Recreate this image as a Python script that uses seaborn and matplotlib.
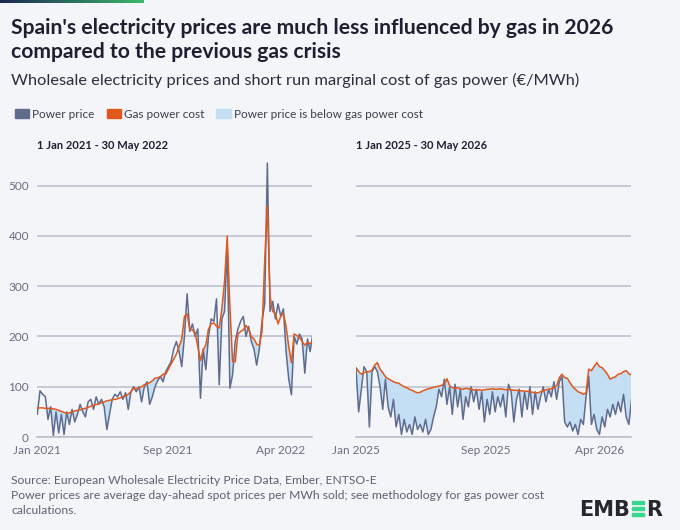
import matplotlib
matplotlib.use("Agg")
import matplotlib.pyplot as plt
import matplotlib.dates as mdates
from matplotlib.colors import LinearSegmentedColormap
from matplotlib.patches import Patch, Rectangle
import numpy as np
import pandas as pd
import seaborn as sns

# Values every 5 days (EUR/MWh)
start_2021 = "2021-01-01"
power_2021 = [
    45, 92, 85, 80, 35, 60, 3, 50, 8, 45, 5, 50, 25, 55, 30, 45, 65, 50, 40, 70,
    75, 55, 80, 65, 75, 60, 15, 45, 75, 85, 80, 90, 75, 88, 55, 90, 100, 90, 100, 70,
    100, 110, 65, 80, 100, 112, 120, 110, 130, 140, 150, 175, 190, 170, 140, 200, 285, 210, 225, 200,
    215, 77, 175, 134, 200, 235, 230, 275, 104, 235, 250, 380, 97, 124, 190, 215, 230, 240, 200, 220,
    190, 175, 143, 175, 230, 265, 545, 250, 270, 235, 265, 240, 255, 170, 115, 84, 200, 185, 205, 195,
    127, 195, 170, 205,
]
gas_2021 = [
    57, 58, 58, 57, 57, 57, 56, 55, 53, 51, 49, 47, 48, 50, 52, 53, 54, 56, 57, 59,
    61, 63, 65, 66, 68, 70, 72, 73, 74, 75, 76, 78, 80, 82, 85, 90, 97, 96, 97, 100,
    104, 106, 108, 112, 117, 118, 120, 125, 125, 135, 145, 155, 165, 180, 195, 240, 245, 215, 213, 207,
    180, 152, 173, 183, 215, 225, 227, 220, 217, 255, 310, 400, 260, 150, 150, 205, 210, 213, 222, 215,
    200, 195, 185, 182, 210, 350, 460, 280, 250, 246, 225, 240, 246, 220, 180, 148, 205, 202, 198, 190,
    183, 188, 186, 190,
]

start_2025 = "2025-01-01"
power_2025 = [
    135, 50, 95, 140, 130, 20, 130, 140, 130, 100, 55, 115, 60, 40, 75, 20, 45, 5, 35, 10,
    25, 5, 40, 15, 25, 10, 35, 5, 15, 40, 60, 95, 80, 115, 65, 100, 45, 105, 60, 95,
    35, 80, 60, 100, 70, 95, 55, 90, 30, 75, 45, 90, 50, 80, 60, 85, 40, 105, 90, 30,
    75, 95, 40, 90, 55, 100, 45, 90, 55, 80, 100, 70, 95, 80, 110, 75, 110, 120, 30, 20,
    30, 12, 25, 5, 35, 25, 80, 120, 25, 45, 15, 5, 40, 20, 55, 40, 65, 45, 70, 50,
    85, 40, 25, 75,
]
gas_2025 = [
    138, 130, 125, 128, 130, 130, 133, 143, 148, 135, 128, 120, 116, 113, 110, 108, 107, 103, 100, 98,
    95, 93, 90, 88, 89, 92, 94, 96, 97, 99, 100, 101, 103, 106, 116, 102, 98, 97, 98, 96,
    95, 97, 96, 95, 94, 93, 94, 93, 94, 95, 95, 96, 95, 95, 96, 95, 94, 95, 94, 93,
    93, 92, 92, 91, 91, 90, 89, 88, 88, 90, 92, 94, 95, 96, 98, 102, 118, 125, 118, 117,
    108, 100, 95, 90, 88, 85, 88, 135, 132, 140, 148, 140, 138, 132, 125, 115, 118, 120, 125, 126,
    130, 132, 126, 123,
]
step = "5D"

panels = [
    ("1 Jan 2021 - 30 May 2022", start_2021, "2022-05-30", power_2021, gas_2021,
     ["2021-01-01", "2021-09-01", "2022-04-01"]),
    ("1 Jan 2025 - 30 May 2026", start_2025, "2026-05-30", power_2025, gas_2025,
     ["2025-01-01", "2025-09-01", "2026-04-01"]),
]

BG = "#f4f5f9"
GRID = "#b9bdcc"
POWER = "#606c8e"
GAS = "#e0581c"
FILL = "#c4dff3"
TICK = "#6a6e80"
DARK = "#1d2033"

sns.set_theme(style="white")
plt.rcParams["font.family"] = ["Lato", "DejaVu Sans"]

W, H = 680, 530
fig = plt.figure(figsize=(W / 100, H / 100), dpi=100, facecolor=BG)

# gradient strip at the top left
strip = fig.add_axes([0, 1 - 3 / H, 144 / W, 3 / H])
strip.imshow(np.linspace(0, 1, 200)[None, :], aspect="auto",
             cmap=LinearSegmentedColormap.from_list("ember", ["#1b2850", "#3cb96c"]))
strip.axis("off")

fig.text(11 / W, 1 - 34.5 / H, "Spain's electricity prices are much less influenced by gas in 2026",
         fontsize=15.2, fontweight="bold", color=DARK, va="baseline")
fig.text(11 / W, 1 - 58.5 / H, "compared to the previous gas crisis",
         fontsize=15.2, fontweight="bold", color=DARK, va="baseline")
fig.text(11 / W, 1 - 85 / H,
         "Wholesale electricity prices and short run marginal cost of gas power (€/MWh)",
         fontsize=11.8, color="#2a2d3c", va="baseline")

handles = [Patch(color=POWER, label="Power price"),
           Patch(color=GAS, label="Gas power cost"),
           Patch(color=FILL, label="Power price is below gas power cost")]
fig.legend(handles=handles, loc="center left", bbox_to_anchor=(4 / W, 1 - 114.3 / H),
           ncol=3, frameon=False, fontsize=8.5, handlelength=1.2, handleheight=0.85,
           handletextpad=0.3, columnspacing=1.0, labelcolor="#3a3d4c")

for k, (title, start, end, power, gas, ticks) in enumerate(panels):
    left = 37.3 if k == 0 else 356
    ax = fig.add_axes([left / W, 93 / H, 275 / W, 277.4 / H])
    ax.set_facecolor(BG)
    df = pd.DataFrame({
        "date": pd.date_range(start, periods=len(power), freq=step),
        "power": power,
        "gas": gas,
    })
    ax.fill_between(df["date"], df["power"], df["gas"], where=df["power"] < df["gas"],
                    interpolate=True, color=FILL, lw=0, zorder=1)
    sns.lineplot(data=df, x="date", y="power", ax=ax, color=POWER, linewidth=1.1, zorder=2)
    sns.lineplot(data=df, x="date", y="gas", ax=ax, color=GAS, linewidth=1.1, zorder=3)

    ax.set_xlim(pd.Timestamp(start), pd.Timestamp(end))
    ax.set_ylim(0, 552)
    ax.set_yticks([0, 100, 200, 300, 400, 500])
    ax.yaxis.grid(True, color=GRID, linewidth=1.1)
    ax.set_axisbelow(True)
    ax.set_xticks(pd.to_datetime(ticks))
    ax.xaxis.set_major_formatter(mdates.DateFormatter("%b %Y"))
    ax.tick_params(axis="x", length=3, width=1, color=GRID, pad=3, labelsize=8.5, labelcolor=TICK)
    ax.tick_params(axis="y", length=0, pad=6, labelsize=8.5, labelcolor=TICK)
    if k == 1:
        ax.tick_params(axis="y", labelleft=False)
    ax.set_xlabel("")
    ax.set_ylabel("")
    for side in ["top", "right", "left"]:
        ax.spines[side].set_visible(False)
    ax.spines["bottom"].set_color(GRID)
    ax.spines["bottom"].set_linewidth(1.1)
    fig.text(left / W, 1 - 145.7 / H, title, fontsize=8, fontweight="bold",
             color=DARK, va="center")

foot_kw = dict(fontsize=8.7, color="#5d6172", va="center")
fig.text(11 / W, 1 - 480 / H, "Source: European Wholesale Electricity Price Data, Ember, ENTSO-E",
         **foot_kw)
fig.text(11 / W, 1 - 495.7 / H,
         "Power prices are average day-ahead spot prices per MWh sold; see methodology for gas power cost",
         **foot_kw)
fig.text(11 / W, 1 - 511 / H, "calculations.", **foot_kw)

# EMBER logo, the fourth letter drawn as three green bars
renderer = fig.canvas.get_renderer()
logo_kw = dict(fontsize=15, fontweight="bold", color="#25272d", va="baseline",
               family="DejaVu Sans")
t1 = fig.text(579 / W, 1 - 515.7 / H, "EMB", **logo_kw)
bb = t1.get_window_extent(renderer)
x0 = bb.x1 + 2
bar_w, cap = 12, 15
for j in range(3):
    fig.patches.append(Rectangle((x0 / W, (H - 515.7 + j * (cap - 3) / 2) / H),
                                 bar_w / W, 3 / H, color="#3bd68e",
                                 transform=fig.transFigure, figure=fig))
fig.text((x0 + bar_w + 2) / W, 1 - 515.7 / H, "R", **logo_kw)

fig.savefig("out.png", dpi=100, facecolor=BG)
